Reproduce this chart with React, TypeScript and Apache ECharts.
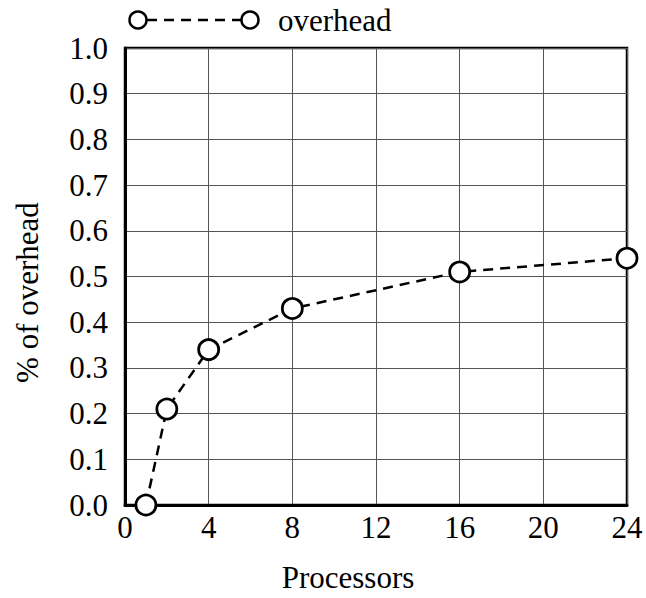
import React, { useEffect, useRef } from "react";
import * as echarts from "echarts";

const processors = [1, 2, 4, 8, 16, 24];
const overhead = [0.0, 0.21, 0.34, 0.43, 0.51, 0.54];
const seriesName = "overhead";
const xTitle = "Processors";
const yTitle = "% of overhead";

const FONT = "Liberation Serif";

export default function App() {
  const ref = useRef<HTMLDivElement>(null);
  useEffect(() => {
    if (!ref.current) return;
    const chart = echarts.init(ref.current, undefined, { renderer: "svg" });
    chart.setOption({
      animation: false,
      backgroundColor: "#ffffff",
      textStyle: { fontFamily: FONT, color: "#000" },
      grid: {
        left: 125,
        right: 19,
        top: 48,
        bottom: 90,
        show: true,
        borderColor: "#000",
        borderWidth: 2.5,
        backgroundColor: "transparent",
      },
      xAxis: {
        type: "value",
        min: 0,
        max: 24,
        interval: 4,
        name: xTitle,
        nameLocation: "middle",
        nameGap: 57,
        nameTextStyle: { fontFamily: FONT, fontSize: 31, color: "#000", padding: [0, 56, 0, 0] },
        axisLine: { show: true, lineStyle: { color: "#000", width: 3 } },
        axisTick: { show: false },
        axisLabel: { fontFamily: FONT, fontSize: 31, color: "#000", margin: 7 },
        splitLine: { show: true, lineStyle: { color: "#555", width: 1 } },
      },
      yAxis: {
        type: "value",
        min: 0,
        max: 1,
        interval: 0.1,
        name: yTitle,
        nameLocation: "middle",
        nameGap: 82,
        nameTextStyle: { fontFamily: FONT, fontSize: 31, color: "#000", padding: [0, 32, 0, 0] },
        axisLine: { show: true, lineStyle: { color: "#000", width: 3 } },
        axisTick: { show: false },
        axisLabel: {
          fontFamily: FONT,
          fontSize: 31,
          color: "#000",
          margin: 17,
          formatter: (v: number) => v.toFixed(1),
        },
        splitLine: { show: true, lineStyle: { color: "#555", width: 1 } },
      },
      graphic: [
        {
          type: "line",
          shape: { x1: 147, y1: 20, x2: 241, y2: 20 },
          style: { stroke: "#000", lineWidth: 2.5, lineDash: [10, 7] },
        },
        {
          type: "circle",
          shape: { cx: 138, cy: 20, r: 8.5 },
          style: { fill: "#fff", stroke: "#000", lineWidth: 2.5 },
        },
        {
          type: "circle",
          shape: { cx: 250, cy: 20, r: 8.5 },
          style: { fill: "#fff", stroke: "#000", lineWidth: 2.5 },
        },
        {
          type: "text",
          x: 278,
          y: 20,
          style: {
            text: seriesName,
            fontFamily: FONT,
            fontSize: 31,
            fill: "#000",
            verticalAlign: "middle",
          },
        },
      ],
      series: [
        {
          name: seriesName,
          type: "line",
          data: processors.map((p, i) => [p, overhead[i]]),
          symbol: "circle",
          symbolSize: 20,
          showAllSymbol: true,
          clip: false,
          lineStyle: { color: "#000", width: 2.5, type: [10, 7] },
          itemStyle: { color: "#fff", borderColor: "#000", borderWidth: 2.8 },
          z: 5,
        },
      ],
    });
    return () => chart.dispose();
  }, []);
  return (
    <div
      ref={ref}
      style={{ position: "fixed", left: 0, top: 0, width: 646, height: 598, background: "#fff" }}
    />
  );
}
